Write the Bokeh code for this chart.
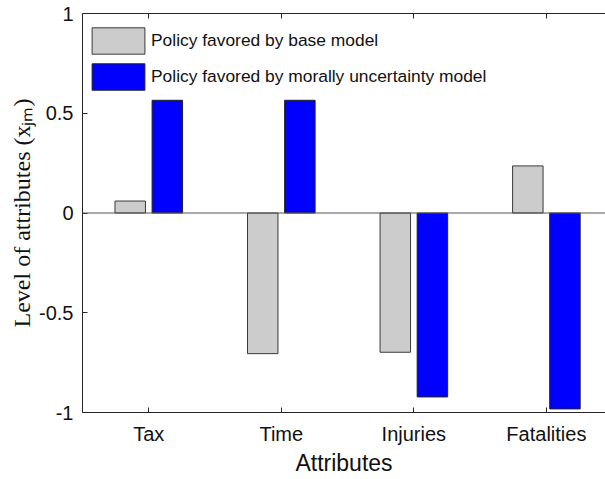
from bokeh.plotting import figure
from bokeh.models import (ColumnDataSource, Range1d, FixedTicker, LinearAxis, Span,
                          Legend, LegendItem)
from bokeh.transform import dodge
from bokeh.embed import file_html
from bokeh.resources import INLINE

# ---- data ----
categories = ["Tax", "Time", "Injuries", "Fatalities"]
positions = [1, 2, 3, 4]
base_model = [0.06, -0.705, -0.698, 0.236]
moral_uncertainty_model = [0.565, 0.565, -0.922, -0.982]
y_ticks = [-1, -0.5, 0, 0.5, 1]
y_tick_labels = ["-1", "-0.5", "0", "0.5", "1"]
series_names = ["Policy favored by base model",
                "Policy favored by morally uncertainty model"]
x_title = "Attributes"
y_title = "Level of attributes (xⱼₘ)"

src = ColumnDataSource(dict(pos=positions, cat=categories,
                            base=base_model, moral=moral_uncertainty_model))

AX = "#262626"
TXT = "#111111"
p = figure(width=605, height=479, output_backend="svg", toolbar_location=None,
           x_range=Range1d(0.5, 4.446), y_range=Range1d(-1, 1),
           min_border_left=82, min_border_top=13, min_border_right=0,
           min_border_bottom=67)
p.xgrid.visible = False
p.ygrid.visible = False
p.outline_line_color = None
p.background_fill_color = "white"

b1 = p.vbar(x=dodge("pos", -0.14), top="base", bottom=0, width=0.23, source=src,
            fill_color="#cccccc", line_color="#3a3a3a", line_width=1)
b2 = p.vbar(x=dodge("pos", 0.14), top="moral", bottom=0, width=0.23, source=src,
            fill_color="#0000ff", line_color="#222222", line_width=1)

p.add_layout(Span(location=0, dimension="width", line_color="#555555", line_width=1))

# x axis
xa = p.xaxis[0]
xa.ticker = FixedTicker(ticks=positions)
xa.major_label_overrides = {pos: c for pos, c in zip(positions, categories)}
xa.minor_tick_line_color = None
xa.major_tick_in = 5
xa.major_tick_out = 0
xa.axis_line_color = AX
xa.major_tick_line_color = AX
xa.major_label_text_font = "Liberation Sans"
xa.major_label_text_font_size = "20px"
xa.major_label_text_color = TXT
xa.major_label_standoff = 10
xa.axis_label = x_title
xa.axis_label_text_font = "Liberation Sans"
xa.axis_label_text_font_size = "23px"
xa.axis_label_text_font_style = "normal"
xa.axis_label_text_color = TXT
xa.axis_label_standoff = 2

# y axis
ya = p.yaxis[0]
ya.ticker = FixedTicker(ticks=y_ticks)
ya.major_label_overrides = {t: l for t, l in zip(y_ticks, y_tick_labels)}
ya.minor_tick_line_color = None
ya.major_tick_in = 5
ya.major_tick_out = 0
ya.axis_line_color = AX
ya.major_tick_line_color = AX
ya.major_label_text_font = "Liberation Sans"
ya.major_label_text_font_size = "20px"
ya.major_label_text_color = TXT
ya.major_label_standoff = 9
ya.axis_label = y_title
ya.axis_label_text_font = "Liberation Serif"
ya.axis_label_text_font_size = "24px"
ya.axis_label_text_font_style = "normal"
ya.axis_label_text_color = TXT
ya.axis_label_standoff = 1

# top axis (box line with inward ticks)
top = LinearAxis(ticker=FixedTicker(ticks=positions),
                 major_label_overrides={t: "" for t in positions},
                 major_tick_in=5, major_tick_out=0, minor_tick_line_color=None,
                 axis_line_color=AX, major_tick_line_color=AX, major_label_standoff=0)
p.add_layout(top, "above")

legend = Legend(items=[LegendItem(label=series_names[0], renderers=[b1]),
                       LegendItem(label=series_names[1], renderers=[b2])],
                location=(3, 319), margin=0, padding=0, spacing=3,
                glyph_width=66, glyph_height=33, label_standoff=0,
                label_text_font="Liberation Sans", label_text_font_size="17.4px",
                label_text_color=TXT,
                border_line_alpha=0, background_fill_alpha=0)
p.add_layout(legend, "center")

open("out.html", "w").write(file_html(p, INLINE))
